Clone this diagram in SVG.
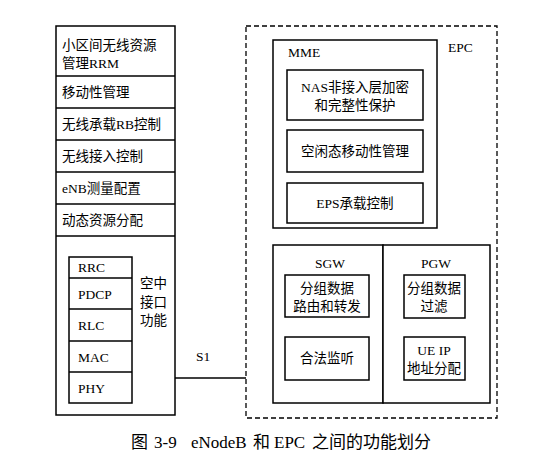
<svg xmlns="http://www.w3.org/2000/svg" width="536" height="472" viewBox="0 0 536 472">
<style>
.b{fill:#fff;stroke:#000;stroke-width:1.5}
.n{fill:none;stroke:#000;stroke-width:1.5}
.t{font-family:"Liberation Serif","Noto Sans CJK SC",serif;font-size:13.5px;fill:#000}
.c{text-anchor:middle}
.d{fill:none;stroke:#000;stroke-width:1.3;stroke-dasharray:5,3}
.cap{font-size:17px}
</style>
<rect width="536" height="472" fill="#fff"/>
<g id="enodeb">
<rect class="b" x="56" y="26" width="119" height="389"/>
<line class="n" x1="56" y1="76" x2="175" y2="76"/>
<line class="n" x1="56" y1="108" x2="175" y2="108"/>
<line class="n" x1="56" y1="140" x2="175" y2="140"/>
<line class="n" x1="56" y1="172" x2="175" y2="172"/>
<line class="n" x1="56" y1="204" x2="175" y2="204"/>
<line class="n" x1="56" y1="236" x2="175" y2="236"/>
<text class="t" x="62" y="50">小区间无线资源</text>
<text class="t" x="62" y="68">管理RRM</text>
<text class="t" x="62" y="97">移动性管理</text>
<text class="t" x="62" y="129">无线承载RB控制</text>
<text class="t" x="62" y="161">无线接入控制</text>
<text class="t" x="62" y="193">eNB测量配置</text>
<text class="t" x="62" y="225">动态资源分配</text>
</g>
<g id="air">
<rect class="b" x="69" y="257" width="63" height="146"/>
<line class="n" x1="69" y1="278" x2="132" y2="278"/>
<line class="n" x1="69" y1="309" x2="132" y2="309"/>
<line class="n" x1="69" y1="341" x2="132" y2="341"/>
<line class="n" x1="69" y1="372" x2="132" y2="372"/>
<text class="t" x="78" y="272">RRC</text>
<text class="t" x="78" y="299">PDCP</text>
<text class="t" x="78" y="330">RLC</text>
<text class="t" x="78" y="362">MAC</text>
<text class="t" x="78" y="393">PHY</text>
<text class="t" x="140" y="288">空中</text>
<text class="t" x="140" y="307">接口</text>
<text class="t" x="140" y="325">功能</text>
</g>
<g id="connectors">
<line class="n" x1="175" y1="378" x2="246" y2="378"/>
<text class="t" x="196" y="361">S1</text>
</g>
<g id="epc">
<rect class="d" x="246" y="26" width="251" height="392"/>
<text class="t" x="448" y="52">EPC</text>
</g>
<g id="mme">
<rect class="b" x="273" y="40" width="164" height="188"/>
<text class="t" x="288" y="57">MME</text>
<rect class="b" x="287" y="70" width="136" height="50"/>
<text class="t c" x="355" y="92">NAS非接入层加密</text>
<text class="t c" x="355" y="110">和完整性保护</text>
<rect class="b" x="287" y="130" width="136" height="42"/>
<text class="t c" x="355" y="156">空闲态移动性管理</text>
<rect class="b" x="287" y="183" width="136" height="40"/>
<text class="t c" x="355" y="208">EPS承载控制</text>
</g>
<g id="sgw">
<rect class="b" x="273" y="245" width="110" height="158"/>
<text class="t c" x="330" y="268">SGW</text>
<rect class="b" x="285" y="275" width="84" height="42"/>
<text class="t c" x="327" y="293">分组数据</text>
<text class="t c" x="327" y="311">路由和转发</text>
<rect class="b" x="285" y="337" width="84" height="43"/>
<text class="t c" x="327" y="363">合法监听</text>
</g>
<g id="pgw">
<rect class="b" x="383" y="245" width="107" height="158"/>
<text class="t c" x="436" y="268">PGW</text>
<rect class="b" x="404" y="275" width="61" height="43"/>
<text class="t c" x="434" y="293">分组数据</text>
<text class="t c" x="434" y="311">过滤</text>
<rect class="b" x="404" y="337" width="61" height="43"/>
<text class="t c" x="434" y="355">UE IP</text>
<text class="t c" x="434" y="373">地址分配</text>
</g>
<g id="caption">
<text class="t cap" x="131" y="448">图</text>
<text class="t cap" x="154" y="448">3-9</text>
<text class="t cap" x="191" y="448">eNodeB</text>
<text class="t cap" x="253" y="448">和</text>
<text class="t cap" x="274" y="448">EPC</text>
<text class="t cap" x="312" y="448">之间的功能划分</text>
</g>
</svg>
